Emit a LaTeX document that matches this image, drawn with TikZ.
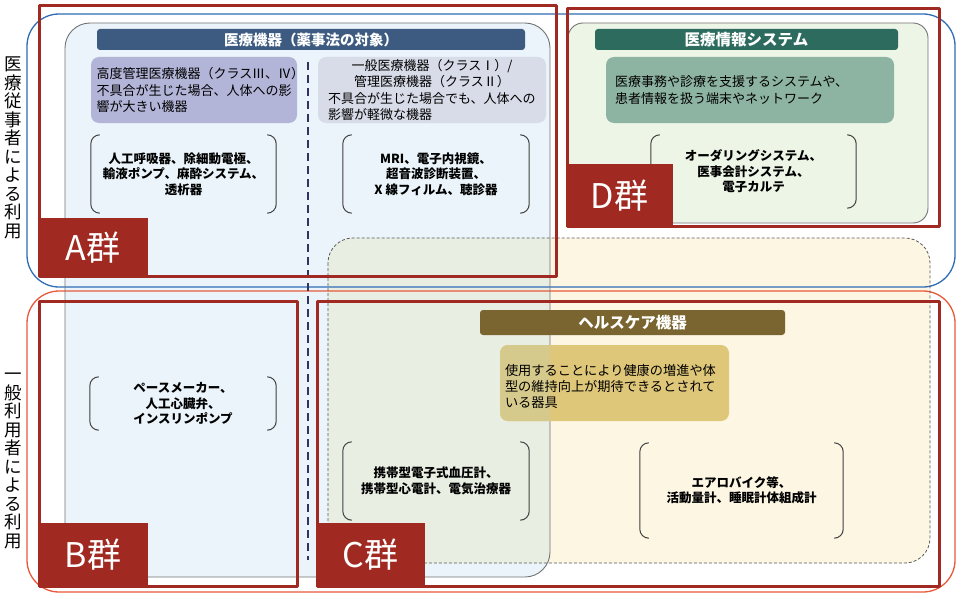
\documentclass[tikz,border=0pt]{standalone}
\usepackage{fontspec}
\setmainfont{Noto Sans CJK JP}

\definecolor{grpred}{HTML}{A02A22}
\definecolor{bluefr}{HTML}{2F6DB5}
\definecolor{orangefr}{HTML}{E8593A}
\definecolor{medfill}{HTML}{EAF4FA}
\definecolor{medtitle}{HTML}{3D5A80}
\definecolor{highfill}{HTML}{B3B5D8}
\definecolor{lowfill}{HTML}{D8DCE8}
\definecolor{infofill}{HTML}{EDF5E6}
\definecolor{infotitle}{HTML}{2D6B5E}
\definecolor{infodesc}{HTML}{8DB3A2}
\definecolor{hcfill}{HTML}{FDF6E3}
\definecolor{hctitle}{HTML}{7A6530}
\definecolor{hcdesc}{HTML}{DFC77A}
\definecolor{mixfill}{HTML}{E9EEE3}
\definecolor{mixdesc}{HTML}{D6C98C}

% 括弧で囲む
\newcommand{\kakko}[1]{%
  \draw[kakkoline] ([xshift=9pt]#1.north west) to[out=180,in=90] ([yshift=-9pt]#1.north west)
    -- ([yshift=9pt]#1.south west) to[out=-90,in=180] ([xshift=9pt]#1.south west);
  \draw[kakkoline] ([xshift=-9pt]#1.north east) to[out=0,in=90] ([yshift=-9pt]#1.north east)
    -- ([yshift=9pt]#1.south east) to[out=-90,in=0] ([xshift=-9pt]#1.south east);}

\begin{document}
\begin{tikzpicture}[
        x=1pt, y=-1pt,
        line join=round,
        % 枠のスタイル
        userframe/.style={line width=1.3pt, rounded corners=32pt},
        group/.style={draw=grpred, line width=3pt},
        grouplabel/.style={fill=grpred, text=white, inner sep=0pt,
            font=\fontsize{34}{34}\selectfont},
        panel/.style={draw=black!55, line width=0.9pt},
        titlebar/.style={rounded corners=3pt, text=white, inner sep=0pt,
            minimum height=21pt, font=\bfseries\fontsize{15.5}{16}\selectfont},
        descbox/.style={rounded corners=8pt, inner ysep=0pt, align=left,
            font=\fontsize{13}{16.5}\selectfont},
        kakkobox/.style={inner sep=0pt, align=center,
            font=\bfseries\fontsize{12.5}{15.5}\selectfont},
        kakkoline/.style={draw=black!75, line width=1pt},
        sidelabel/.style={inner sep=0pt, align=center,
            font=\fontsize{17.5}{18.5}\selectfont},
    ]
    \path[use as bounding box, fill=white] (0,0) rectangle (960,599);

    % パネルの塗り
    \fill[medfill, rounded corners=25pt] (65,23) rectangle (550,577);
    \fill[infofill, rounded corners=15pt] (568,23) rectangle (928,223);
    \fill[hcfill, rounded corners=25pt] (328,238) rectangle (930,563);
    \begin{scope}
        \clip[rounded corners=25pt] (65,23) rectangle (550,577);
        \fill[mixfill, rounded corners=25pt] (328,238) rectangle (930,563);
    \end{scope}

    % 利用者の枠
    \draw[userframe, bluefr] (27,14) rectangle (955,287);
    \draw[userframe, orangefr] (27,291) rectangle (955,592);

    % パネルの輪郭
    \draw[panel, rounded corners=25pt] (65,23) rectangle (550,577);
    \draw[panel, rounded corners=15pt] (568,23) rectangle (928,223);
    \draw[black!65, line width=0.8pt, dash pattern=on 3pt off 2pt, rounded corners=25pt]
        (328,238) rectangle (930,563);
    \draw[black!70!blue!60!gray, line width=1.3pt, dash pattern=on 8pt off 5pt] (308,62) -- (308,560);

    % 医療機器
    \node[titlebar, fill=medtitle, minimum width=428pt, font=\bfseries\fontsize{14.5}{15}\selectfont]
        (medTitle) at (311,39.5) {医療機器（薬事法の対象）};
    \node[descbox, fill=highfill, text width=195pt, inner xsep=5.5pt, minimum height=66pt]
        (classHigh) at (194,90) {高度管理医療機器（クラスⅢ、Ⅳ）\\不具合が生じた場合、人体への影\\響が大きい機器};
    \node[descbox, fill=lowfill, text width=208pt, inner xsep=10pt, minimum height=66pt]
        (classLow) at (432,90) {\hfill 一般医療機器（クラスⅠ）/\hfill\null\\
            \hfill 管理医療機器（クラスⅡ）\hfill\null\\
            不具合が生じた場合でも、人体への\\影響が軽微な機器};
    \node[kakkobox, minimum width=185pt, minimum height=78pt]
        (kakkoA) at (183.5,174) {人工呼吸器、除細動電極、\\輸液ポンプ、麻酔システム、\\透析器};
    \node[kakkobox, minimum width=186pt, minimum height=78pt]
        (kakkoMRI) at (436,174) {MRI、電子内視鏡、\\超音波診断装置、\\X 線フィルム、聴診器};
    \node[kakkobox, minimum width=186pt, minimum height=53pt]
        (kakkoB) at (183,403.5) {ペースメーカー、\\人工心臓弁、\\インスリンポンプ};
    \kakko{kakkoA}
    \kakko{kakkoMRI}
    \kakko{kakkoB}

    % 医療情報システム
    \node[titlebar, fill=infotitle, minimum width=303pt] (infoTitle) at (746.5,39.5) {医療情報システム};
    \node[descbox, fill=infodesc, text width=270pt, inner xsep=9pt, minimum height=66pt]
        (infoDesc) at (750,90) {医療事務や診療を支援するシステムや、\\患者情報を扱う端末やネットワーク};
    \node[kakkobox, minimum width=205pt, minimum height=73pt]
        (kakkoD) at (753.5,171.5) {オーダリングシステム、\\医事会計システム、\\電子カルテ};
    \kakko{kakkoD}

    % ヘルスケア機器
    \node[titlebar, fill=hctitle, minimum width=305pt, minimum height=25pt] (hcTitle) at (632.5,322.5) {ヘルスケア機器};
    \fill[hcdesc, rounded corners=8pt] (500,345) rectangle (729,421);
    \begin{scope}
        \clip[rounded corners=25pt] (65,23) rectangle (550,577);
        \fill[mixdesc, rounded corners=8pt] (500,345) rectangle (729,421);
    \end{scope}
    \node[descbox, text width=215pt, inner xsep=0pt, font=\fontsize{13.2}{16}\selectfont]
        (hcDesc) at (612.5,386) {使用することにより健康の増進や体\\型の維持向上が期待できるとされて\\いる器具};
    \node[kakkobox, minimum width=186pt, minimum height=78pt]
        (kakkoC) at (436,481) {携帯型電子式血圧計、\\携帯型心電計、電気治療器};
    \node[kakkobox, minimum width=203pt, minimum height=95pt]
        (kakkoHC) at (741.5,490.5) {エアロバイク等、\\活動量計、睡眠計体組成計};
    \kakko{kakkoC}
    \kakko{kakkoHC}

    % 群の枠
    \draw[group] (39.5,5.5) rectangle (556,276);
    \draw[group] (567.5,9) rectangle (939,226);
    \draw[group] (39.5,301) rectangle (297,586);
    \draw[group] (317.5,301) rectangle (939,586);
    \node[grouplabel, minimum width=110pt, minimum height=59pt] (grpA) at (93,247.5) {A群};
    \node[grouplabel, minimum width=107pt, minimum height=63pt] (grpD) at (619.5,195.5) {D群};
    \node[grouplabel, minimum width=110pt, minimum height=64pt] (grpB) at (93,555) {B群};
    \node[grouplabel, minimum width=109pt, minimum height=64pt] (grpC) at (370.5,555) {C群};

    % 縦書きラベル
    \node[sidelabel] (proUse) at (13,148) {医\\療\\従\\事\\者\\に\\よ\\る\\利\\用};
    \node[sidelabel] (pubUse) at (13,461) {一\\般\\利\\用\\者\\に\\よ\\る\\利\\用};
\end{tikzpicture}
\end{document}
